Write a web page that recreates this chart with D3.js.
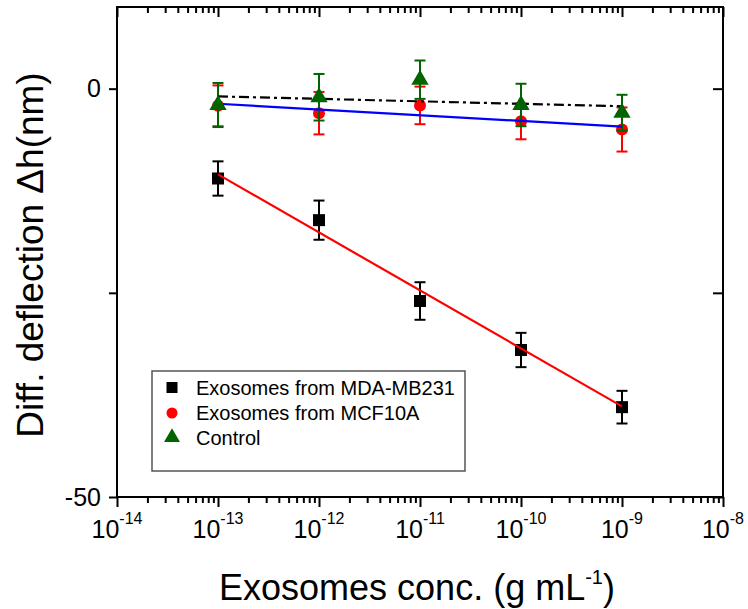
<!DOCTYPE html>
<html>
<head>
<meta charset="utf-8">
<script src="https://cdn.jsdelivr.net/npm/d3@7"></script>
<style>
  body { margin: 0; background: #fff; }
  svg { font-family: Arial, "Liberation Sans", sans-serif; }
</style>
</head>
<body>
<div id="chart"></div>
<script>
// concentrations (g/mL) and deflection values
const conc = [1e-13, 1e-12, 1e-11, 1e-10, 1e-9];
const xTickValues = [1e-14, 1e-13, 1e-12, 1e-11, 1e-10, 1e-9, 1e-8];
const yTickValues = [0, -25, -50];
const yTickLabels = ["0", "", "-50"];

const mdaValues = [-11.0, -16.1, -26.0, -32.0, -39.0];
const mdaErrors = [2.1, 2.4, 2.3, 2.1, 2.0];
const mcfValues = [-2.1, -3.0, -2.05, -4.0, -5.0];
const mcfErrors = [2.5, 2.6, 2.3, 2.2, 2.7];
const ctrlValues = [-2.0, -1.05, 1.1, -2.0, -2.95];
const ctrlErrors = [2.7, 2.85, 2.35, 2.6, 2.2];

// linear fits, end points at 1e-13 and 1e-9
const fitConc = [1e-13, 1e-9];
const mdaFit = [-10.5, -38.9];
const mcfFit = [-1.85, -4.65];
const ctrlFit = [-0.95, -2.15];

const legendLabels = ["Exosomes from MDA-MB231", "Exosomes from MCF10A", "Control"];

const w = 748, h = 609;
const margin = {left: 117, top: 7, right: 25, bottom: 112};
const innerW = w - margin.left - margin.right;
const innerH = h - margin.top - margin.bottom;

const svg = d3.select("#chart").append("svg")
  .attr("width", w)
  .attr("height", h);

const x = d3.scaleLog().domain([1e-14, 1e-8]).range([margin.left, margin.left + innerW]);
const y = d3.scaleLinear().domain([-50, 10]).range([margin.top + innerH, margin.top]);

const minorX = x.ticks().filter(d => !xTickValues.some(t => Math.abs(t - d) / t < 1e-6));

// axes: bottom (outward), top (inward), left (outward), right (inward)
const axisStyle = g => {
  g.select(".domain").remove();
  g.selectAll("line").attr("stroke", "#000").attr("stroke-width", 2);
  g.selectAll("text").remove();
};

svg.append("g")
  .attr("transform", `translate(0,${y(-50)})`)
  .call(d3.axisBottom(x).tickValues(xTickValues).tickSize(10).tickFormat(""))
  .call(axisStyle);
svg.append("g")
  .attr("transform", `translate(0,${y(-50)})`)
  .call(d3.axisBottom(x).tickValues(minorX).tickSize(6).tickFormat(""))
  .call(axisStyle);
svg.append("g")
  .attr("transform", `translate(0,${y(10)})`)
  .call(d3.axisBottom(x).tickValues(xTickValues).tickSize(10).tickFormat(""))
  .call(axisStyle);
svg.append("g")
  .attr("transform", `translate(0,${y(10)})`)
  .call(d3.axisBottom(x).tickValues(minorX).tickSize(6).tickFormat(""))
  .call(axisStyle);
svg.append("g")
  .attr("transform", `translate(${x(1e-14)},0)`)
  .call(d3.axisLeft(y).tickValues(yTickValues).tickSize(8).tickFormat(""))
  .call(axisStyle);
svg.append("g")
  .attr("transform", `translate(${x(1e-8)},0)`)
  .call(d3.axisLeft(y).tickValues(yTickValues).tickSize(10).tickFormat(""))
  .call(axisStyle);

// frame
svg.append("rect")
  .attr("x", x(1e-14)).attr("y", y(10))
  .attr("width", x(1e-8) - x(1e-14))
  .attr("height", y(-50) - y(10))
  .attr("fill", "none").attr("stroke", "#000").attr("stroke-width", 2);

// x tick labels 10^n
const xl = svg.append("g").selectAll("text")
  .data(xTickValues).enter().append("text")
  .attr("x", d => x(d))
  .attr("y", 538)
  .attr("text-anchor", "middle")
  .attr("font-size", 25);
xl.append("tspan").text("10");
xl.append("tspan")
  .attr("dy", -14)
  .attr("font-size", 16)
  .text(d => Math.round(Math.log10(d)));

// y tick labels
svg.append("g").selectAll("text")
  .data(yTickValues).enter().append("text")
  .attr("x", 101)
  .attr("y", d => y(d) + 8.5)
  .attr("text-anchor", "end")
  .attr("font-size", 25)
  .text((d, i) => yTickLabels[i]);

// axis titles
const xt = svg.append("text")
  .attr("x", 417).attr("y", 600)
  .attr("text-anchor", "middle")
  .attr("font-size", 36);
xt.append("tspan").text("Exosomes conc. (g mL");
xt.append("tspan").attr("dy", -16).attr("font-size", 20).text("-1");
xt.append("tspan").attr("dy", 16).text(")");

svg.append("text")
  .attr("transform", "translate(43,255) rotate(-90)")
  .attr("text-anchor", "middle")
  .attr("font-size", 37)
  .text("Diff. deflection \u0394h(nm)");

// error bars helper
function errorBars(vals, errs, color) {
  const g = svg.append("g").attr("stroke", color).attr("stroke-width", 2);
  conc.forEach((c, i) => {
    const cx = x(c);
    g.append("line").attr("x1", cx).attr("x2", cx)
      .attr("y1", y(vals[i] + errs[i])).attr("y2", y(vals[i] - errs[i]));
    [vals[i] + errs[i], vals[i] - errs[i]].forEach(v => {
      g.append("line").attr("x1", cx - 5.5).attr("x2", cx + 5.5)
        .attr("y1", y(v)).attr("y2", y(v));
    });
  });
}

const line = d3.line().x(d => x(d[0])).y(d => y(d[1]));

// MCF10A
errorBars(mcfValues, mcfErrors, "#ff0000");
svg.append("g").selectAll("circle")
  .data(mcfValues).enter().append("circle")
  .attr("cx", (d, i) => x(conc[i])).attr("cy", d => y(d))
  .attr("r", 6).attr("fill", "#ff0000");

// Control error bars
errorBars(ctrlValues, ctrlErrors, "#006400");

// fit lines
svg.append("path")
  .attr("d", line(fitConc.map((c, i) => [c, mcfFit[i]])))
  .attr("fill", "none").attr("stroke", "#0000ff").attr("stroke-width", 2.2);
svg.append("path")
  .attr("d", line(fitConc.map((c, i) => [c, ctrlFit[i]])))
  .attr("fill", "none").attr("stroke", "#000").attr("stroke-width", 2.2)
  .attr("stroke-dasharray", "10,4,3,4");

// Control triangles
const tri = d3.symbol().type(d3.symbolTriangle).size(130);
svg.append("g").selectAll("path")
  .data(ctrlValues).enter().append("path")
  .attr("d", tri)
  .attr("transform", (d, i) => `translate(${x(conc[i])},${y(d)})`)
  .attr("fill", "#006400");

// MDA-MB231
errorBars(mdaValues, mdaErrors, "#000");
svg.append("g").selectAll("rect")
  .data(mdaValues).enter().append("rect")
  .attr("x", (d, i) => x(conc[i]) - 6).attr("y", d => y(d) - 6)
  .attr("width", 12).attr("height", 12)
  .attr("fill", "#000");
svg.append("path")
  .attr("d", line(fitConc.map((c, i) => [c, mdaFit[i]])))
  .attr("fill", "none").attr("stroke", "#ff0000").attr("stroke-width", 2.2);

// legend
const lg = svg.append("g");
lg.append("rect")
  .attr("x", 152).attr("y", 371).attr("width", 313).attr("height", 100)
  .attr("fill", "#fff").attr("stroke", "#555").attr("stroke-width", 1.5);
const legendRows = [387.5, 413, 437.5];
lg.append("rect").attr("x", 166.5).attr("y", legendRows[0] - 5.5)
  .attr("width", 11).attr("height", 11).attr("fill", "#000");
lg.append("circle").attr("cx", 172).attr("cy", legendRows[1]).attr("r", 5.5).attr("fill", "#ff0000");
lg.append("path").attr("d", d3.symbol().type(d3.symbolTriangle).size(110))
  .attr("transform", `translate(172,${legendRows[2]})`).attr("fill", "#006400");
lg.selectAll("text.leg")
  .data(legendLabels).enter().append("text")
  .attr("class", "leg")
  .attr("x", 196).attr("y", (d, i) => legendRows[i] + 7)
  .attr("font-size", 20)
  .text(d => d);
</script>
</body>
</html>
